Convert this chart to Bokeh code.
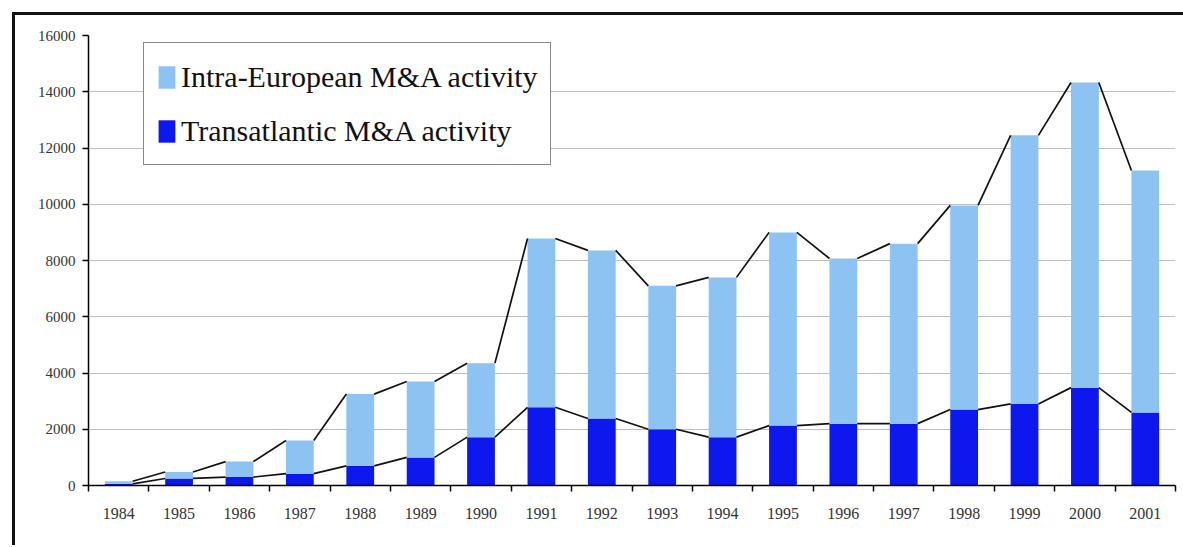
from bokeh.plotting import figure
from bokeh.layouts import column
from bokeh.models import (ColumnDataSource, Range1d, FixedTicker, Legend, LegendItem)
from bokeh.embed import file_html
from bokeh.resources import INLINE

years = ["1984", "1985", "1986", "1987", "1988", "1989", "1990", "1991", "1992",
         "1993", "1994", "1995", "1996", "1997", "1998", "1999", "2000", "2001"]
transatlantic = [60, 250, 300, 420, 700, 1000, 1720, 2780, 2380, 2000, 1720, 2130,
                 2200, 2200, 2700, 2900, 3480, 2600]
intra_european = [90, 230, 550, 1180, 2550, 2700, 2630, 6000, 5980, 5100, 5680, 6870,
                  5870, 6400, 7260, 9550, 10850, 8600]
y_ticks = [0, 2000, 4000, 6000, 8000, 10000, 12000, 14000, 16000]

LIGHT = "#8CC3F2"
DARK = "#0C18EE"
BAR_W = 0.46

n = len(years)
xc = [i + 0.5 for i in range(n)]
totals = [t + e for t, e in zip(transatlantic, intra_european)]

src = ColumnDataSource(dict(x=xc, trans=transatlantic, total=totals))

p = figure(width=1168, height=530, output_backend="svg", toolbar_location=None,
           x_range=Range1d(0, n), y_range=Range1d(0, 16000),
           min_border_left=73, min_border_right=8, min_border_top=20,
           min_border_bottom=60)
p.background_fill_color = "white"
p.border_fill_color = "white"
p.outline_line_color = None

dark_r = p.vbar(x="x", width=BAR_W, bottom=0, top="trans", source=src,
                fill_color=DARK, line_color=None)
light_r = p.vbar(x="x", width=BAR_W, bottom="trans", top="total", source=src,
                 fill_color=LIGHT, line_color=None)

# series lines: right top corner of one bar to left top corner of next
for series in (totals, transatlantic):
    x0 = [xc[i] + BAR_W / 2 for i in range(n - 1)]
    x1 = [xc[i + 1] - BAR_W / 2 for i in range(n - 1)]
    p.segment(x0=x0, y0=series[:-1], x1=x1, y1=series[1:],
              line_color="#111111", line_width=1.7)

# axes
p.xaxis.ticker = FixedTicker(ticks=xc, minor_ticks=list(range(n + 1)))
p.xaxis.major_label_overrides = {c: y for c, y in zip(xc, years)}
p.xaxis.major_tick_line_color = None
p.xaxis.minor_tick_in = 0
p.xaxis.minor_tick_out = 6
p.xaxis.minor_tick_line_color = "black"
p.xaxis.minor_tick_line_width = 1.5
p.xaxis.axis_line_color = "black"
p.xaxis.axis_line_width = 1.5
p.xaxis.major_label_standoff = 16
p.xaxis.major_label_text_font = "Liberation Serif"
p.xaxis.major_label_text_font_size = "16px"
p.xaxis.major_label_text_color = "#333333"

p.yaxis.ticker = FixedTicker(ticks=y_ticks)
p.yaxis.minor_tick_line_color = None
p.yaxis.major_tick_in = 0
p.yaxis.major_tick_out = 6
p.yaxis.major_tick_line_color = "black"
p.yaxis.major_tick_line_width = 1.5
p.yaxis.axis_line_color = "black"
p.yaxis.axis_line_width = 1.5
p.yaxis.major_label_standoff = 7
p.yaxis.major_label_text_font = "Liberation Serif"
p.yaxis.major_label_text_font_size = "15px"
p.yaxis.major_label_text_color = "#333333"

p.xgrid.grid_line_color = None
p.ygrid.ticker = FixedTicker(ticks=y_ticks)
p.ygrid.grid_line_color = "#BDBDBD"
p.ygrid.grid_line_width = 1

legend = Legend(items=[LegendItem(label="Intra-European M&A activity", renderers=[light_r]),
                       LegendItem(label="Transatlantic M&A activity", renderers=[dark_r])],
                location=(55, 450 - 9 - 121))
legend.label_text_font = "Liberation Serif"
legend.label_text_font_size = "30px"
legend.label_text_color = "#111111"
legend.glyph_width = 21
legend.glyph_height = 28
legend.label_height = 43
legend.label_standoff = 4
legend.spacing = 11
legend.padding = 12
legend.margin = 0
legend.border_line_color = "#111111"
legend.border_line_width = 1.5
legend.background_fill_color = "white"
legend.background_fill_alpha = 1
p.add_layout(legend)

layout = column(p, margin=(12, 0, 0, 12),
                styles={"border-left": "3px solid #111111",
                        "border-top": "3px solid #111111"})

open("out.html", "w").write(file_html(layout, INLINE))
